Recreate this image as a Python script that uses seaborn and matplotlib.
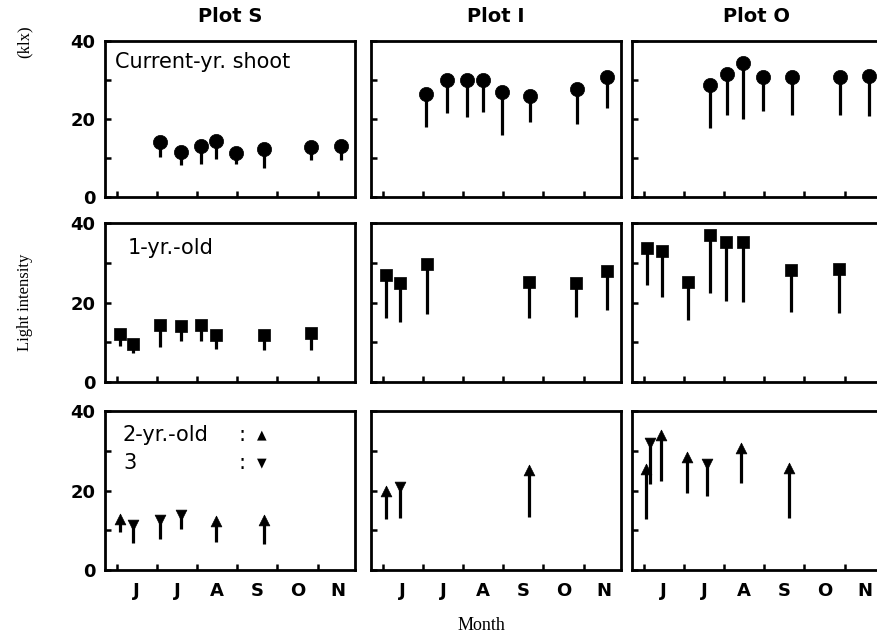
import numpy as np
import pandas as pd
import matplotlib
matplotlib.use("Agg")
import matplotlib.pyplot as plt
import seaborn as sns

# ---- data: sampling date (month number + fraction, 6.0 = 1 June),
# ---- upper and lower light intensity (klx)

# current-year shoots
shoot_S_date = [7.08, 7.60, 8.09, 8.48, 8.97, 9.66, 10.84, 11.57]
shoot_S_high = [14.1, 11.6, 13.1, 14.3, 11.4, 12.2, 12.7, 13.0]
shoot_S_low = [10.3, 8.3, 8.4, 9.7, 8.4, 7.4, 9.5, 9.5]

shoot_I_date = [7.08, 7.60, 8.09, 8.49, 8.98, 9.66, 10.83, 11.59]
shoot_I_high = [26.4, 30.1, 30.1, 30.1, 27.0, 26.0, 27.7, 30.8]
shoot_I_low = [18.0, 21.6, 20.6, 21.8, 15.9, 19.3, 18.7, 22.7]

shoot_O_date = [7.65, 8.07, 8.48, 8.98, 9.68, 10.88, 11.60]
shoot_O_high = [28.7, 31.6, 34.3, 30.8, 30.8, 30.8, 30.9]
shoot_O_low = [17.8, 20.9, 19.9, 22.0, 20.9, 20.9, 20.8]

# 1-year-old shoots
one_S_date = [6.08, 6.41, 7.08, 7.59, 8.09, 8.47, 9.66, 10.83]
one_S_high = [12.2, 9.5, 14.3, 14.1, 14.3, 11.8, 11.8, 12.3]
one_S_low = [9.1, 7.2, 8.8, 10.3, 10.2, 8.3, 8.1, 8.1]

one_I_date = [6.08, 6.42, 7.11, 9.65, 10.82, 11.58]
one_I_high = [26.8, 24.9, 29.8, 25.1, 24.9, 27.8]
one_I_low = [16.2, 15.2, 17.0, 16.2, 16.3, 18.0]

one_O_date = [6.09, 6.46, 7.10, 7.64, 8.05, 8.47, 9.67, 10.86]
one_O_high = [33.8, 33.0, 25.2, 37.0, 35.1, 35.2, 28.1, 28.5]
one_O_low = [24.3, 21.3, 15.5, 22.3, 20.5, 20.2, 17.6, 17.4]

# 2-year-old shoots
two_S_date = [6.08, 8.47, 9.66]
two_S_high = [12.9, 12.3, 12.5]
two_S_low = [9.6, 7.1, 6.5]

two_I_date = [6.08, 9.65]
two_I_high = [20.0, 25.2]
two_I_low = [12.9, 13.3]

two_O_date = [6.05, 6.43, 7.07, 8.41, 9.62]
two_O_high = [25.4, 33.9, 28.5, 30.6, 25.6]
two_O_low = [12.9, 22.5, 19.3, 21.8, 13.1]

# 3-year-old shoots
three_S_date = [6.41, 7.08, 7.59]
three_S_high = [11.3, 12.7, 13.9]
three_S_low = [6.9, 7.9, 10.4]

three_I_date = [6.42]
three_I_high = [21.0]
three_I_low = [13.2]

three_O_date = [6.16, 7.58]
three_O_high = [32.0, 26.7]
three_O_low = [21.7, 18.5]

plots = ["S", "I", "O"]
month_ticks = [6, 7, 8, 9, 10, 11]
month_labels = ["J", "J", "A", "S", "O", "N"]


def frame(plot, age, dates, high, low):
    return pd.DataFrame({"plot": plot, "age": age, "date": dates,
                         "high": high, "low": low})


data = pd.concat([
    frame("S", "current", shoot_S_date, shoot_S_high, shoot_S_low),
    frame("I", "current", shoot_I_date, shoot_I_high, shoot_I_low),
    frame("O", "current", shoot_O_date, shoot_O_high, shoot_O_low),
    frame("S", "1yr", one_S_date, one_S_high, one_S_low),
    frame("I", "1yr", one_I_date, one_I_high, one_I_low),
    frame("O", "1yr", one_O_date, one_O_high, one_O_low),
    frame("S", "2yr", two_S_date, two_S_high, two_S_low),
    frame("I", "2yr", two_I_date, two_I_high, two_I_low),
    frame("O", "2yr", two_O_date, two_O_high, two_O_low),
    frame("S", "3yr", three_S_date, three_S_high, three_S_low),
    frame("I", "3yr", three_I_date, three_I_high, three_I_low),
    frame("O", "3yr", three_O_date, three_O_high, three_O_low),
], ignore_index=True)

sns.set_theme(style="ticks")
plt.rcParams["font.family"] = ["DejaVu Sans"]
plt.rcParams["axes.linewidth"] = 2.0
plt.rcParams["text.color"] = "black"
plt.rcParams["axes.labelcolor"] = "black"
plt.rcParams["xtick.color"] = "black"
plt.rcParams["ytick.color"] = "black"
plt.rcParams["axes.titlecolor"] = "black"

W, H = 878, 635
fig = plt.figure(figsize=(W / 100, H / 100), dpi=100)
fig.patch.set_facecolor("white")

col_left = [105, 371, 632]
col_w = 250
row_top = [41, 223, 411]
row_h = [156, 159, 159]

row_ages = [["current"], ["1yr"], ["2yr", "3yr"]]
markers = {"current": "o", "1yr": "s", "2yr": "^", "3yr": "v"}
sizes = {"current": 105, "1yr": 80, "2yr": 60, "3yr": 60}

for r in range(3):
    for c, plot in enumerate(plots):
        l = col_left[c] / W
        b = 1 - (row_top[r] + row_h[r]) / H
        ax = fig.add_axes([l, b, col_w / W, row_h[r] / H])
        for age in row_ages[r]:
            sub = data[(data["plot"] == plot) & (data["age"] == age)]
            ax.vlines(sub["date"], sub["low"], sub["high"], color="black",
                      linewidth=2.3, zorder=2)
            sns.scatterplot(data=sub, x="date", y="high", ax=ax,
                            marker=markers[age], s=sizes[age],
                            color="black", edgecolor="black", linewidth=0.5,
                            zorder=3, legend=False)
        ax.set_xlim(5.71, 11.93)
        ax.set_ylim(0, 40)
        ax.set_xlabel("")
        ax.set_ylabel("")
        for sp in ax.spines.values():
            sp.set_visible(True)
            sp.set_linewidth(2.0)
            sp.set_color("black")
        ax.set_yticks([0, 10, 20, 30, 40])
        if c == 0:
            ax.set_yticklabels(["0", "", "20", "", "40"], fontsize=13,
                               fontweight="bold")
        else:
            ax.set_yticklabels([])
        ax.set_xticks(month_ticks)
        ax.set_xticklabels([])
        ax.set_xticks([m + 0.5 for m in month_ticks], minor=True)
        if r == 2:
            ax.set_xticklabels(month_labels, minor=True, fontsize=13,
                               fontweight="bold")
        else:
            ax.set_xticklabels([], minor=True)
        ax.tick_params(axis="both", which="major", direction="in", length=4,
                       width=1.8, color="black", pad=7, labelcolor="black")
        ax.tick_params(axis="x", which="minor", length=0, pad=9,
                       labelcolor="black")
        ax.tick_params(right=False, top=False)
        if r == 0:
            ax.set_title(f"Plot {plot}", fontsize=14, fontweight="bold",
                         pad=14, color="black")
        if c == 0 and r == 0:
            ax.text(0.04, 0.865, "Current-yr. shoot", transform=ax.transAxes,
                    fontsize=15, va="center", ha="left", color="black")
        if c == 0 and r == 1:
            ax.text(0.09, 0.84, "1-yr.-old", transform=ax.transAxes,
                    fontsize=15, va="center", ha="left", color="black")
        if c == 0 and r == 2:
            ax.text(0.072, 0.85, "2-yr.-old", transform=ax.transAxes,
                    fontsize=15, va="center", ha="left", color="black")
            ax.text(0.072, 0.673, "3", transform=ax.transAxes,
                    fontsize=15, va="center", ha="left", color="black")
            for yy, glyph in [(0.85, "\u25B2"), (0.673, "\u25BC")]:
                ax.text(0.548, yy, ":", transform=ax.transAxes, fontsize=15,
                        va="center", ha="center", color="black")
                ax.text(0.628, yy, glyph, transform=ax.transAxes, fontsize=9,
                        va="center", ha="center", color="black")

serif = ["Liberation Serif", "DejaVu Serif"]
fig.text(25 / W, 1 - 42 / H, "(klx)", rotation=90, ha="center", va="center",
         fontsize=12, family=serif, color="black")
fig.text(25 / W, 1 - 302 / H, "Light intensity", rotation=90, ha="center",
         va="center", fontsize=12, family=serif, color="black")
fig.text(481 / W, 1 - 625 / H, "Month", ha="center", va="center",
         fontsize=13, family=serif, color="black")

fig.savefig("out.png", dpi=100, facecolor="white")
